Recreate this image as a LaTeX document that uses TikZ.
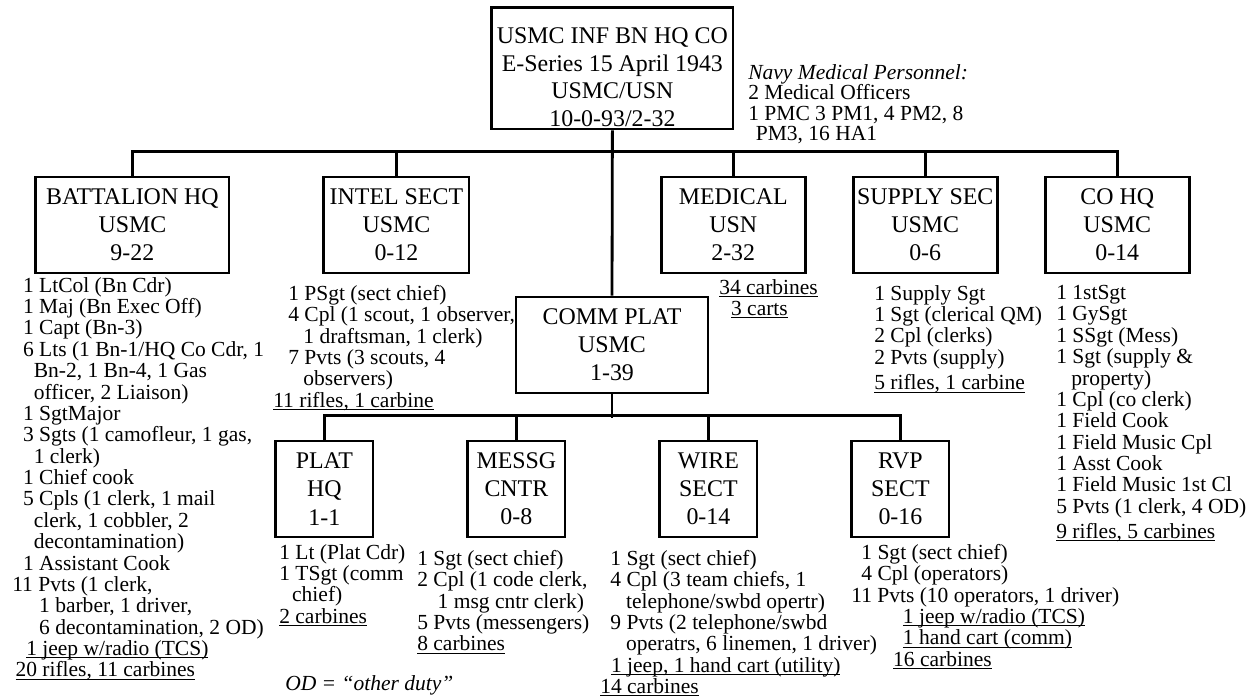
\documentclass[tikz,border=0pt]{standalone}
\usepackage{fontspec}
\setmainfont{Liberation Serif}
\usepackage{tikz}
\usetikzlibrary{positioning}

\newcommand{\eqp}[1]{\underline{\smash{#1}}\vphantom{#1}}

\begin{document}
\begin{tikzpicture}[
    unitbox/.style={draw, line width=2pt, align=center, inner sep=0pt, minimum height=2.4cm, font=\fontsize{17pt}{20pt}\selectfont},
    sectbox/.style={unitbox, minimum width=3.6cm},
    subbox/.style={unitbox, minimum width=2.43cm},
    boxtxt/.style={align=center, inner sep=0pt, font=\fontsize{17pt}{19.6pt}\selectfont},
    roster/.style={anchor=north west, align=left, inner sep=0pt, font=\fontsize{15.3pt}{15.2pt}\selectfont},
    orgline/.style={line width=2pt},
]
\useasboundingbox (0,0) rectangle (31.275,-17.4);

% --- Company HQ ---
\node[unitbox, minimum width=6.03cm, minimum height=3.03cm] at (15.31, -1.71) (coy) {};
\node[boxtxt] at ([yshift=-0.22cm]coy.center) (coytxt) {USMC INF BN HQ CO\\E-Series 15 April 1943\\USMC/USN\\10-0-93/2-32};

\node[roster, font=\fontsize{15.3pt}{14.6pt}\selectfont] at (18.7, -1.6) (navy)
    {\textit{Navy Medical Personnel:}\\2 Medical Officers\\1 PMC 3 PM1, 4 PM2, 8\\\hspace*{0.35em}PM3, 16 HA1};

% --- Sections ---
\node[unitbox, minimum width=4.83cm] at (3.31, -5.625)  (bnhq)    {BATTALION HQ\\USMC\\9-22};
\node[sectbox, minimum width=3.63cm] at (9.91, -5.625)  (intel)   {INTEL SECT\\USMC\\0-12};
\node[sectbox] at (18.33, -5.625) (medical) {MEDICAL\\USN\\2-32};
\node[sectbox] at (23.13, -5.625) (supply)  {SUPPLY SEC\\USMC\\0-6};
\node[sectbox] at (27.93, -5.625) (cohq)    {CO HQ\\USMC\\0-14};

\node[unitbox, minimum width=4.8cm] at (15.3, -8.625) (comm) {COMM PLAT\\USMC\\1-39};

% --- Comm platoon sections ---
\node[subbox] at (8.11, -12.225)  (plathq) {PLAT\\HQ\\1-1};
\node[subbox] at (12.91, -12.225) (messg)  {MESSG\\CNTR\\0-8};
\node[subbox] at (17.71, -12.225) (wire)   {WIRE\\SECT\\0-14};
\node[subbox] at (22.51, -12.225) (rvp)    {RVP\\SECT\\0-16};

% --- Rosters ---
\node[roster] at (0.3, -6.925) (bnlist) {%
\hspace*{0.5em}1 LtCol (Bn Cdr)\\
\hspace*{0.5em}1 Maj (Bn Exec Off)\\
\hspace*{0.5em}1 Capt (Bn-3)\\
\hspace*{0.5em}6 Lts (1 Bn-1/HQ Co Cdr, 1\\
\hspace*{1em}Bn-2, 1 Bn-4, 1 Gas\\
\hspace*{1em}officer, 2 Liaison)\\
\hspace*{0.5em}1 SgtMajor\\
\hspace*{0.5em}3 Sgts (1 camofleur, 1 gas,\\
\hspace*{1em}1 clerk)\\
\hspace*{0.5em}1 Chief cook\\
\hspace*{0.5em}5 Cpls (1 clerk, 1 mail\\
\hspace*{1em}clerk, 1 cobbler, 2\\
\hspace*{1em}decontamination)\\
\hspace*{0.5em}1 Assistant Cook\\
11 Pvts (1 clerk,\\
\hspace*{1.25em}1 barber, 1 driver,\\
\hspace*{1.25em}6 decontamination, 2 OD)\\
\hspace*{0.65em}\eqp{1 jeep w/radio (TCS)}\\
\hspace*{0.15em}\eqp{20 rifles, 11 carbines}};

\node[roster] at (6.825, -7.125) (intellist) {%
\hspace*{0.7em}1 PSgt (sect chief)\\
\hspace*{0.7em}4 Cpl (1 scout, 1 observer,\\
\hspace*{1.4em}1 draftsman, 1 clerk)\\
\hspace*{0.7em}7 Pvts (3 scouts, 4\\
\hspace*{1.4em}observers)\\
\eqp{11 rifles, 1 carbine}};

\node[roster] at (17.975, -6.975) (medlist) {\eqp{34 carbines}\\\hspace*{0.55em}\eqp{3 carts}};

\node[roster] at (21.85, -7.125) (supplylist) {%
1 Supply Sgt\\
1 Sgt (clerical QM)\\
2 Cpl (clerks)\\
2 Pvts (supply)\\[3pt]
\eqp{5 rifles, 1 carbine}};

\node[roster] at (26.4, -7.125) (cohqlist) {%
1 1stSgt\\
1 GySgt\\
1 SSgt (Mess)\\
1 Sgt (supply \&\\
\hspace*{0.7em}property)\\
1 Cpl (co clerk)\\
1 Field Cook\\
1 Field Music Cpl\\
1 Asst Cook\\
1 Field Music 1st Cl\\
5 Pvts (1 clerk, 4 OD)\\[3pt]
\eqp{9 rifles, 5 carbines}};

\node[roster] at (6.975, -13.6) (platlist) {%
1 Lt (Plat Cdr)\\
1 TSgt (comm\\
\hspace*{0.6em}chief)\\
\eqp{2 carbines}};

\node[roster] at (10.425, -13.75) (messglist) {%
1 Sgt (sect chief)\\
2 Cpl (1 code clerk,\\
\hspace*{0.95em}1 msg cntr clerk)\\
5 Pvts (messengers)\\
\eqp{8 carbines}};

\node[roster] at (15.0, -13.75) (wirelist) {%
\hspace*{0.47em}1 Sgt (sect chief)\\
\hspace*{0.47em}4 Cpl (3 team chiefs, 1\\
\hspace*{1.2em}telephone/swbd opertr)\\
\hspace*{0.47em}9 Pvts (2 telephone/swbd\\
\hspace*{1.2em}operatrs, 6 linemen, 1 driver)\\
\hspace*{0.5em}\eqp{1 jeep, 1 hand cart (utility)}\\
\eqp{14 carbines}};

\node[roster] at (21.275, -13.6) (rvplist) {%
\hspace*{0.47em}1 Sgt (sect chief)\\
\hspace*{0.47em}4 Cpl (operators)\\
11 Pvts (10 operators, 1 driver)\\
\hspace*{2.4em}\eqp{1 jeep w/radio (TCS)}\\
\hspace*{2.4em}\eqp{1 hand cart (comm)}\\
\hspace*{1.95em}\eqp{16 carbines}};

\node[roster] at (7.125, -16.875) (odnote) {\textit{OD = “other duty”}};

% --- Lines ---
\draw[orgline] (coy.south) -- (comm.north);
\draw[orgline] (bnhq.north) -- ++(0, 0.6) -| (cohq.north);
\draw[orgline] (intel.north) -- ++(0, 0.6);
\draw[orgline] (medical.north) -- ++(0, 0.6);
\draw[orgline] (supply.north) -- ++(0, 0.6);

\draw[orgline] (comm.south) -- ++(0, -0.6);
\draw[orgline] (plathq.north) -- ++(0, 0.6) -| (rvp.north);
\draw[orgline] (messg.north) -- ++(0, 0.6);
\draw[orgline] (wire.north) -- ++(0, 0.6);

\end{tikzpicture}
\end{document}
